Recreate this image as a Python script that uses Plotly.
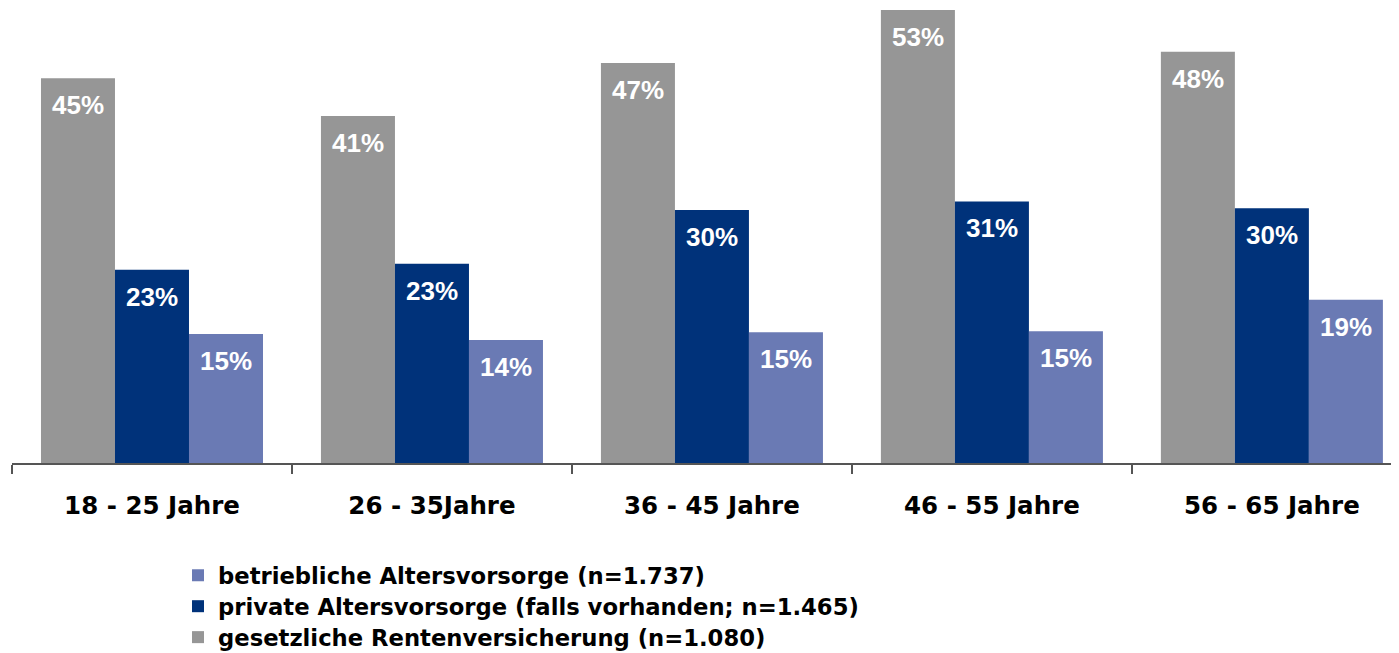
import plotly.graph_objects as go

categories = ["18 - 25 Jahre", "26 - 35Jahre", "36 - 45 Jahre", "46 - 55 Jahre", "56 - 65 Jahre"]
gesetzlich = [45.0, 40.6, 46.8, 53.0, 48.1]
privat = [22.6, 23.3, 29.6, 30.6, 29.8]
betrieblich = [15.1, 14.4, 15.3, 15.4, 19.1]
names = [
    "gesetzliche Rentenversicherung (n=1.080)",
    "private Altersvorsorge (falls vorhanden; n=1.465)",
    "betriebliche Altersvorsorge (n=1.737)",
]
colors = ["#969696", "#00327a", "#6a7ab4"]
series = [gesetzlich, privat, betrieblich]
legend_ids = ["legend", "legend2", "legend3"]

FONT = "Liberation Sans, Arial, sans-serif"
WIDE = "DejaVu Sans, sans-serif"

fig = go.Figure()
for name, vals, col, lg in zip(names, series, colors, legend_ids):
    fig.add_trace(go.Bar(x=categories, y=vals, name=name, legend=lg,
                         marker=dict(color=col, line=dict(width=0))))

offsets = [-74, 0, 74]
for vals, off in zip(series, offsets):
    for c, v in zip(categories, vals):
        fig.add_annotation(x=c, y=v, text=f"<b>{round(v)}%</b>", showarrow=False,
                           xshift=off, yshift=-27, yanchor="middle",
                           font=dict(family=FONT, size=26, color="white"))

leg_font = dict(family=WIDE, size=22.7, color="black", weight="bold")
def leg(y):
    return dict(x=0.1197, y=y, xanchor="left", yanchor="top", font=leg_font,
                bgcolor="rgba(0,0,0,0)", borderwidth=0)

fig.update_layout(
    width=1391, height=645,
    margin=dict(l=4, r=0, t=0, b=190, autoexpand=False),
    barmode="group", bargap=0.207, bargroupgap=0,
    plot_bgcolor="white", paper_bgcolor="white",
    showlegend=True,
    legend3=leg(-0.200),
    legend2=leg(-0.268),
    legend=leg(-0.336),
    font=dict(family=FONT, color="black"),
)
fig.update_xaxes(range=[-0.5, 4.454], showline=True, linecolor="#555555", linewidth=1.5,
                 ticks="outside", tickson="boundaries", ticklen=9, tickcolor="#555555",
                 tickwidth=1.5, showgrid=False, zeroline=False, tickangle=0,
                 ticklabelstandoff=20,
                 tickfont=dict(family=WIDE, size=24.5, color="black", weight="bold"))
fig.update_yaxes(range=[0, 53.23], showticklabels=False, showgrid=False, zeroline=False,
                 showline=False, ticks="")

fig.write_html("out.html")
